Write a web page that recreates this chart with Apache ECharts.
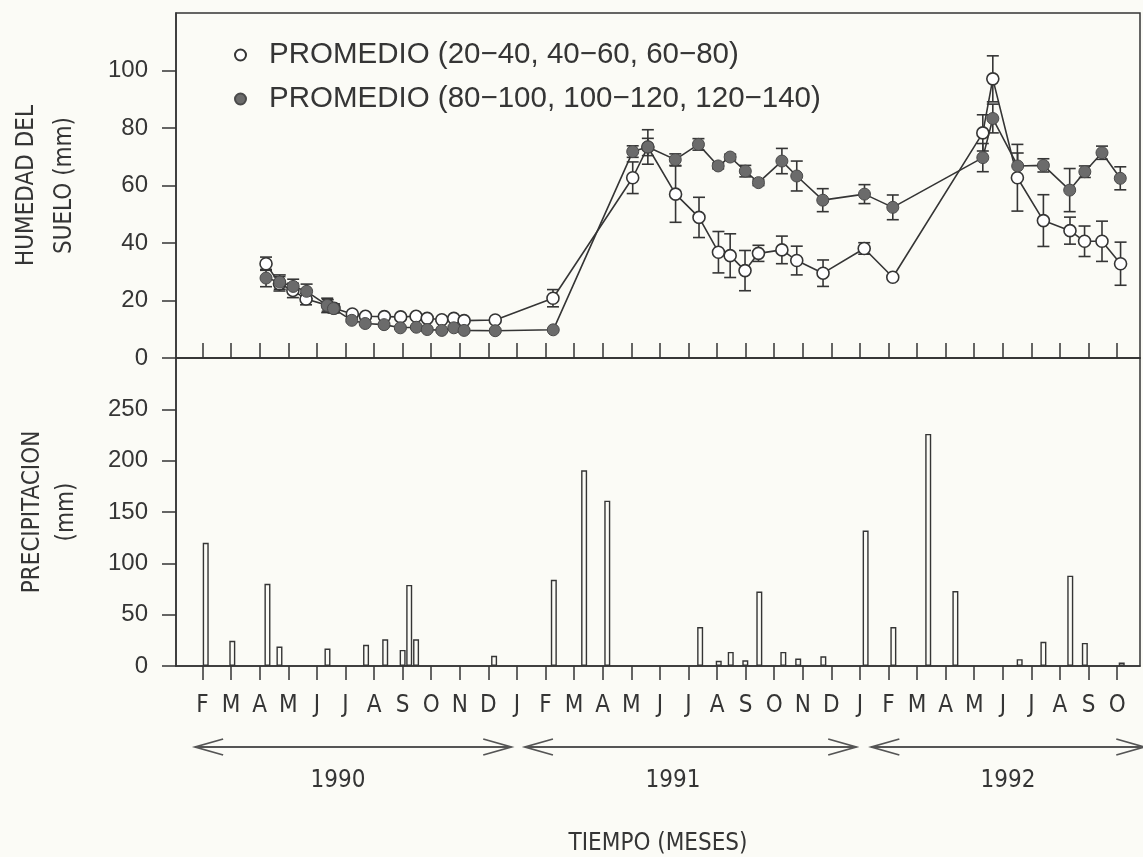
<!DOCTYPE html>
<html><head><meta charset="utf-8">
<script src="https://cdn.jsdelivr.net/npm/echarts@6/dist/echarts.min.js"></script>
<style>html,body{margin:0;padding:0;background:#fbfbf6;}#c{width:1143px;height:857px;}</style>
</head><body><div id="c"></div>
<script>
// ---- data ----
const monthLetters = ['J','F','M','A','M','J','J','A','S','O','N','D']; // month index 0 = Jan 1990
const monthTicks = [1,2,3,4,5,6,7,8,9,10,11,12,13,14,15,16,17,18,19,20,21,22,23,24,25,26,27,28,29,30,31,32,33];
const years = ['1990','1991','1992'];
const yearSpans = [[0.74,11.8],[12.28,23.87],[24.4,33.95]];
const yearLabelAt = [5.74,17.46,29.18];
const soilTicks = [0,20,40,60,80,100];
const rainTicks = [0,50,100,150,200,250];

const shallowName = 'PROMEDIO (20\u221240, 40\u221260, 60\u221280)';
const deepName = 'PROMEDIO (80\u2212100, 100\u2212120, 120\u2212140)';

const shallowX = [3.22,3.69,4.16,4.62,5.38,5.6,6.24,6.7,7.36,7.93,8.47,8.86,9.37,9.79,10.15,11.24,13.26,16.05,16.58,17.55,18.37,19.05,19.46,19.98,20.45,21.27,21.79,22.71,24.15,25.15,28.3,28.65,29.51,30.42,31.35,31.86,32.47,33.12];
const shallowY = [32.8,25.8,23.5,20.5,18.3,17.3,15.3,14.5,14.4,14.3,14.5,13.8,13.3,13.8,13.0,13.2,20.8,62.7,73.4,57.0,48.9,36.8,35.6,30.4,36.4,37.6,33.9,29.5,38.1,28.1,78.3,97.1,62.7,47.8,44.3,40.6,40.6,32.8];
const shallowErr = [2.3,2.5,2.5,2,2,1.5,0.5,0.5,0.5,0.5,0.5,0.5,0.5,0.5,0.5,0.5,3,5.5,6,9.8,7,7.2,7.6,7,2.8,4.8,5,4.6,2,0,6.3,8,11.6,9,4.7,5.3,7,7.5];

const deepX = [3.22,3.7,4.17,4.64,5.36,5.58,6.22,6.69,7.35,7.92,8.48,8.86,9.37,9.79,10.15,11.24,13.27,16.05,16.58,17.54,18.35,19.04,19.46,19.99,20.45,21.27,21.79,22.7,24.16,25.15,28.3,28.65,29.52,30.42,31.34,31.87,32.47,33.11];
const deepY = [27.8,26.4,24.9,23.2,18.3,17.2,13.1,12.0,11.6,10.5,10.7,9.9,9.6,10.5,9.6,9.5,9.8,71.8,73.4,69.0,74.3,66.8,69.9,65.0,61.0,68.5,63.3,54.9,57.0,52.4,69.7,83.3,66.8,67.0,58.4,64.8,71.4,62.5];
const deepErr = [3,2.5,2.5,2.5,2.5,1.5,0.5,0.5,0.5,0.5,0.5,0.5,0.5,0.5,0.5,0.5,0,2,3,2,2,1,1,2,1,4.4,5.2,4,3.3,4.3,4.9,5,4.5,2.3,7.5,2,2.3,4];

const rainX = [1.11,2.04,3.27,3.69,5.37,6.72,7.39,8.0,8.23,8.47,11.2,13.29,14.35,15.16,18.41,19.06,19.48,19.99,20.48,21.32,21.84,22.72,24.2,25.17,26.39,27.34,29.59,30.42,31.36,31.87,33.16];
const rainY = [120,24.5,80,19,17,20.6,26,15.7,79,26,10,84,190.6,161,38,5,13.7,5.6,72.5,13.7,7.2,9.5,132,38,226,73,6.6,23.5,88,22.5,3.3];

// ---- chart ----
const INK = '#353535';
const BG = '#fbfbf6';
const SANS = "'Liberation Sans', Arial, sans-serif";
const NARROW = "'DejaVu Sans Condensed', 'Liberation Sans Narrow', 'Liberation Sans', Arial, sans-serif";

function errSeries(xs, ys, es, z) {
  const data = [];
  xs.forEach((x, i) => { if (es[i] > 0) data.push([x, ys[i] - es[i], ys[i] + es[i]]); });
  return {
    type: 'custom', xAxisIndex: 0, yAxisIndex: 0, z: z, silent: true,
    data: data, encode: { x: 0, y: [1, 2] },
    renderItem: function (params, api) {
      const lo = api.coord([api.value(0), api.value(1)]);
      const hi = api.coord([api.value(0), api.value(2)]);
      const w = 6;
      const st = { stroke: INK, lineWidth: 1.6 };
      return { type: 'group', children: [
        { type: 'line', shape: { x1: lo[0], y1: lo[1], x2: hi[0], y2: hi[1] }, style: st },
        { type: 'line', shape: { x1: lo[0] - w, y1: lo[1], x2: lo[0] + w, y2: lo[1] }, style: st },
        { type: 'line', shape: { x1: hi[0] - w, y1: hi[1], x2: hi[0] + w, y2: hi[1] }, style: st }
      ]};
    }
  };
}

const chart = echarts.init(document.getElementById('c'), null, { renderer: 'canvas' });
const xCommon = {
  type: 'value', min: 0.07, max: 33.8,
  splitLine: { show: false },
  axisLine: { show: true, lineStyle: { color: INK, width: 1.5 } }
};
chart.setOption({
  animation: false,
  backgroundColor: BG,
  textStyle: { fontFamily: SANS, color: INK },
  grid: [
    { left: 176, top: 13, width: 964, height: 345, show: true, borderColor: INK, borderWidth: 1.5, backgroundColor: 'transparent' },
    { left: 176, top: 358, width: 964, height: 310, show: true, borderColor: INK, borderWidth: 1.5, backgroundColor: 'transparent' }
  ],
  legend: {
    orient: 'vertical', left: 229, top: 35, itemGap: 14,
    itemWidth: 11, itemHeight: 11, icon: 'circle',
    textStyle: { fontSize: 29.5, color: INK, fontFamily: SANS, padding: [0, 0, 0, 18] },
    data: [shallowName, deepName]
  },
  xAxis: [
    Object.assign({}, xCommon, { gridIndex: 0,
      axisTick: { show: true, inside: true, length: 15, customValues: monthTicks, lineStyle: { color: INK, width: 1.5 } },
      axisLabel: { show: false } }),
    Object.assign({}, xCommon, { gridIndex: 1,
      axisTick: { show: true, inside: false, length: 14, customValues: monthTicks, lineStyle: { color: INK, width: 1.5 } },
      axisLabel: { show: true, customValues: monthTicks, margin: 28, fontSize: 24, color: INK, fontFamily: NARROW,
        formatter: v => monthLetters[Math.round(v) % 12] },
      name: 'TIEMPO (MESES)', nameLocation: 'middle', nameGap: 166,
      nameTextStyle: { fontSize: 24, color: INK, fontFamily: NARROW } })
  ],
  yAxis: [
    { type: 'value', gridIndex: 0, min: 0, max: 120, interval: 20,
      splitLine: { show: false },
      axisLine: { show: true, lineStyle: { color: INK, width: 1.5 } },
      axisTick: { show: true, length: 14, customValues: soilTicks, lineStyle: { color: INK, width: 1.5 } },
      axisLabel: { customValues: soilTicks, margin: 28, fontSize: 24, color: INK, fontFamily: SANS },
      name: 'HUMEDAD DEL\nSUELO (mm)', nameLocation: 'middle', nameRotate: 90, nameGap: 92,
      nameTextStyle: { fontSize: 24, lineHeight: 38, color: INK, fontFamily: NARROW, align: 'center' } },
    { type: 'value', gridIndex: 1, min: 0, max: 300, interval: 50,
      splitLine: { show: false },
      axisLine: { show: true, lineStyle: { color: INK, width: 1.5 } },
      axisTick: { show: true, length: 14, customValues: rainTicks, lineStyle: { color: INK, width: 1.5 } },
      axisLabel: { customValues: rainTicks, margin: 28, fontSize: 24, color: INK, fontFamily: SANS },
      name: 'PRECIPITACION\n(mm)', nameLocation: 'middle', nameRotate: 90, nameGap: 92,
      nameTextStyle: { fontSize: 24, lineHeight: 34, color: INK, fontFamily: NARROW, align: 'center' } }
  ],
  series: [
    errSeries(shallowX, shallowY, shallowErr, 2),
    errSeries(deepX, deepY, deepErr, 2),
    { name: shallowName, type: 'line', xAxisIndex: 0, yAxisIndex: 0, z: 3,
      data: shallowX.map((x, i) => [x, shallowY[i]]),
      symbol: 'circle', symbolSize: 12, showAllSymbol: true, silent: true,
      lineStyle: { color: INK, width: 1.6 },
      itemStyle: { color: '#ffffff', borderColor: INK, borderWidth: 1.6 } },
    { name: deepName, type: 'line', xAxisIndex: 0, yAxisIndex: 0, z: 4,
      data: deepX.map((x, i) => [x, deepY[i]]),
      symbol: 'circle', symbolSize: 12, showAllSymbol: true, silent: true,
      lineStyle: { color: INK, width: 1.6 },
      itemStyle: { color: '#6b6b6b', borderColor: '#4a4a4a', borderWidth: 1 } },
    { name: 'Precipitacion', type: 'bar', xAxisIndex: 1, yAxisIndex: 1, barWidth: 6, silent: true,
      data: rainX.map((x, i) => [x, rainY[i]]),
      itemStyle: { color: BG, borderColor: INK, borderWidth: 1.4 } }
  ]
});

// year arrows and labels below the time axis
const AY = 747, LY = 781, HEAD = 28, HALF = 8;
const gfx = [];
const aStyle = { stroke: '#555', lineWidth: 1.8, fill: null };
yearSpans.forEach((s, i) => {
  const a = chart.convertToPixel({ xAxisIndex: 1 }, s[0]);
  const b = chart.convertToPixel({ xAxisIndex: 1 }, s[1]);
  gfx.push({ type: 'line', silent: true, shape: { x1: a, y1: AY, x2: b, y2: AY }, style: aStyle });
  gfx.push({ type: 'polyline', silent: true, shape: { points: [[a + HEAD, AY - HALF], [a, AY], [a + HEAD, AY + HALF]] }, style: aStyle });
  gfx.push({ type: 'polyline', silent: true, shape: { points: [[b - HEAD, AY - HALF], [b, AY], [b - HEAD, AY + HALF]] }, style: aStyle });
  const c = chart.convertToPixel({ xAxisIndex: 1 }, yearLabelAt[i]);
  gfx.push({ type: 'text', silent: true, x: c, y: LY,
    style: { text: years[i], align: 'center', verticalAlign: 'middle', fontSize: 24, fill: INK, fontFamily: NARROW } });
});
chart.setOption({ graphic: gfx });
</script>
</body></html>
